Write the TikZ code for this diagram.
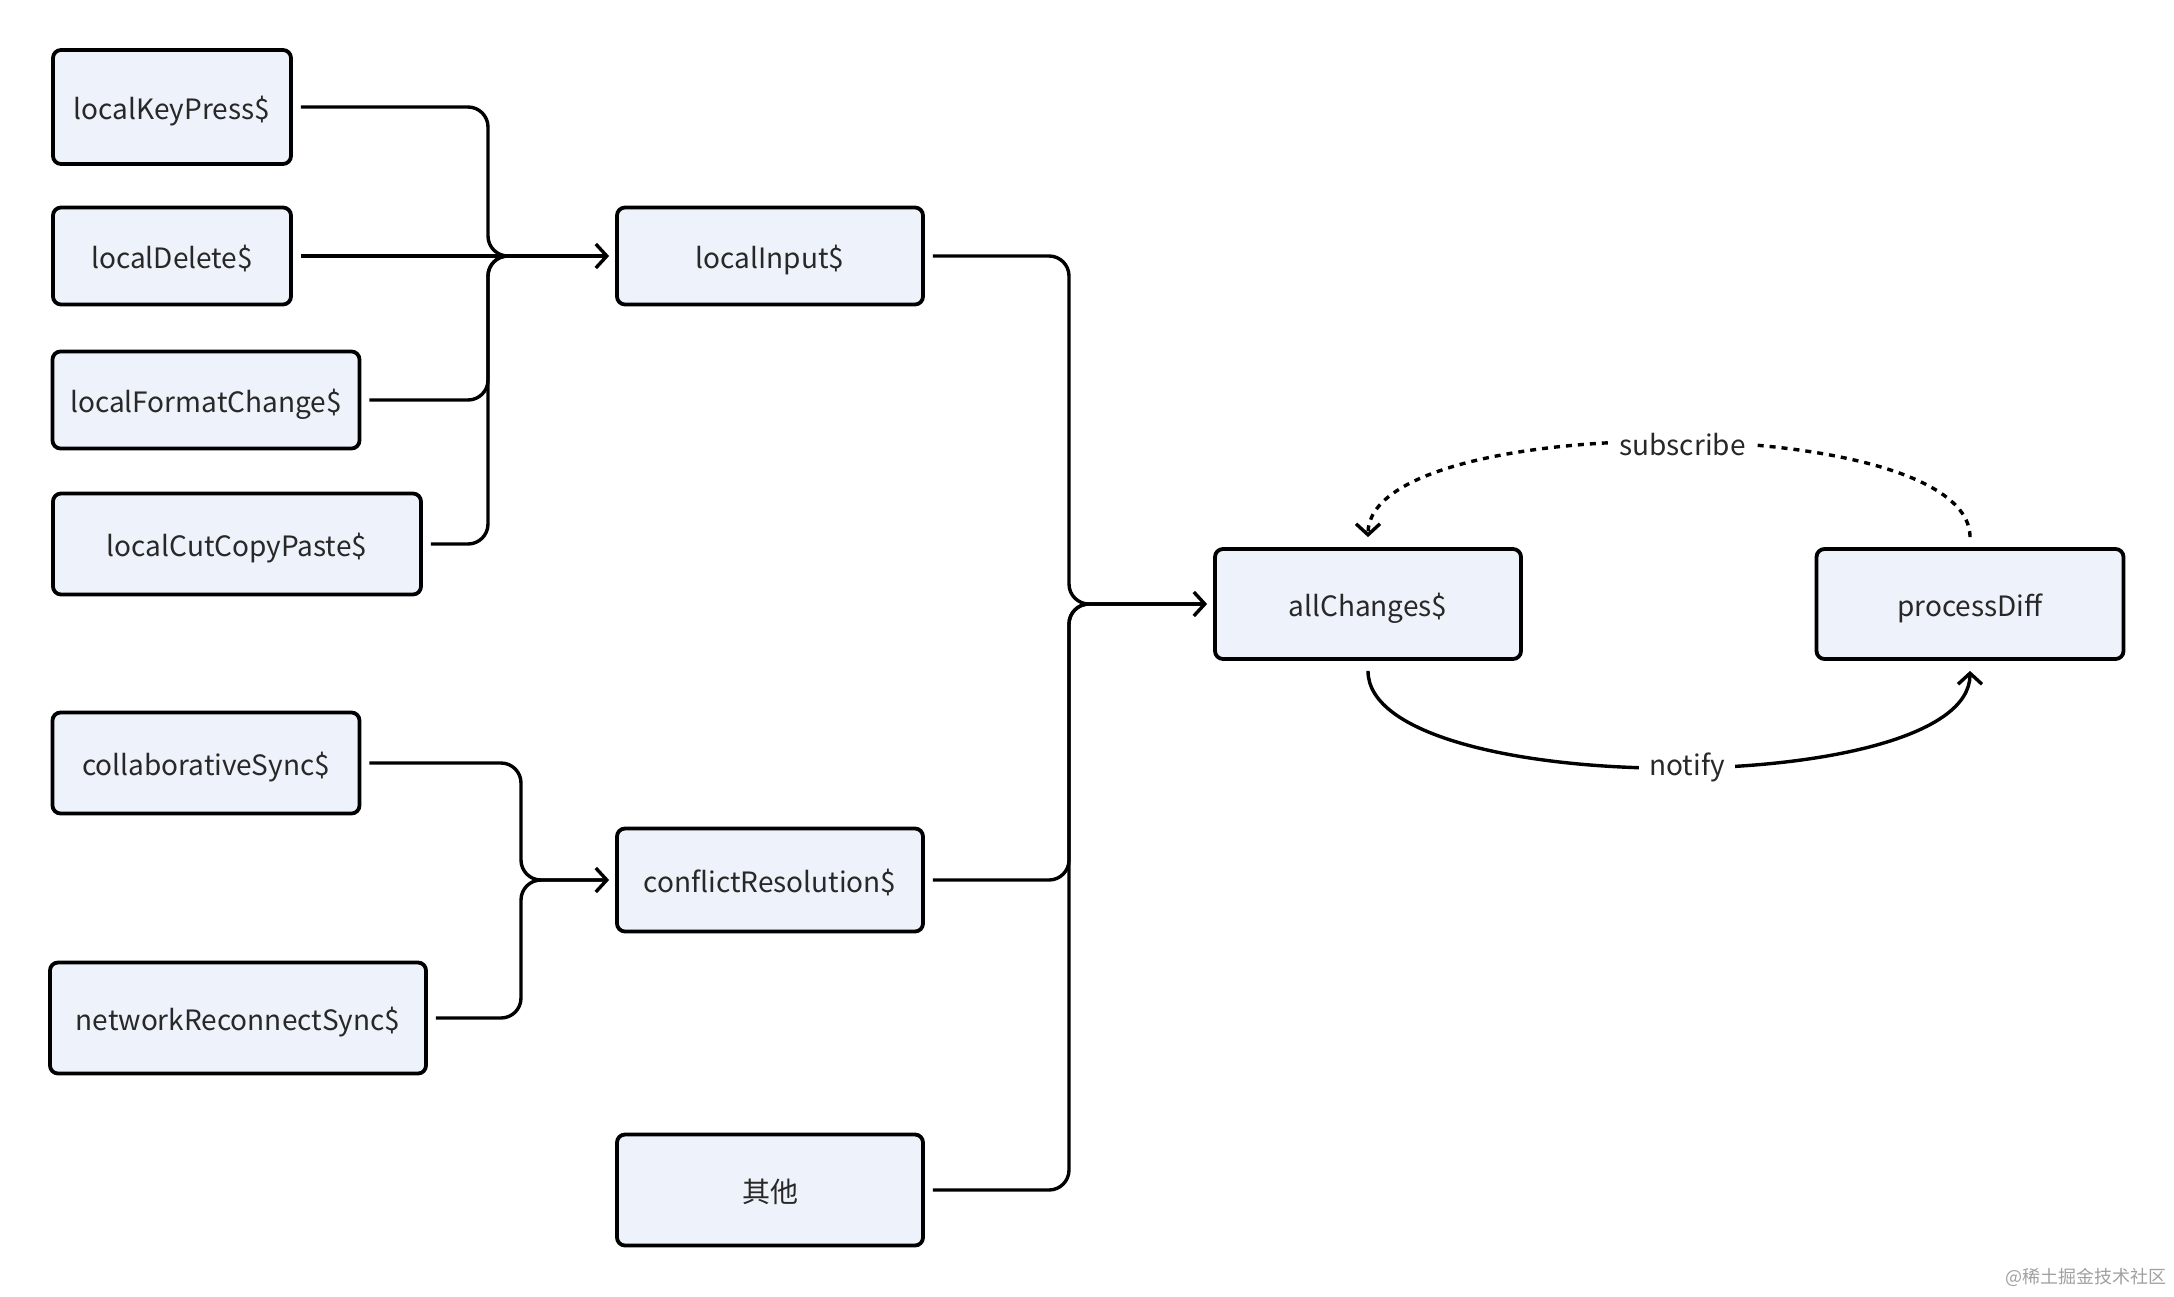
\documentclass[tikz,border=0pt]{standalone}
\usepackage{fontspec}
\setmainfont{Noto Sans CJK SC}
\usetikzlibrary{arrows.meta}
\definecolor{boxfill}{RGB}{238,242,250}
\definecolor{txt}{RGB}{40,40,40}
\definecolor{wm}{RGB}{160,160,160}
\begin{document}
\begin{tikzpicture}[x=0.5pt,y=-0.5pt,
  box/.style={draw=black, line width=1.9pt, rounded corners=4pt, fill=boxfill, text=txt,
    font=\fontsize{14}{16}\selectfont, inner sep=0pt, text height=15pt, text depth=3pt},
  conn/.style={line width=1.7pt, rounded corners=10pt, shorten <=4pt, shorten >=6pt},
  tip/.style={-{Straight Barb[length=5.5pt,width=12pt,line width=1.7pt]}, shorten >=3pt},
  lbl/.style={fill=white, text=txt, font=\fontsize{14}{16}\selectfont, inner sep=5pt}]
\useasboundingbox (0,0) rectangle (2174,1296);

% nodes
\node[box, minimum width=119pt, minimum height=57pt] (kp) at (172,107) {localKeyPress\$};
\node[box, minimum width=119pt, minimum height=48.5pt] (del) at (172,256) {localDelete\$};
\node[box, minimum width=153.5pt, minimum height=48.5pt] (fmt) at (206,400) {localFormatChange\$};
\node[box, minimum width=184pt, minimum height=50.5pt] (ccp) at (237,544) {localCutCopyPaste\$};
\node[box, minimum width=153pt, minimum height=48.5pt] (inp) at (770,256) {localInput\$};
\node[box, minimum width=153.5pt, minimum height=50.5pt] (cs) at (206,763) {collaborativeSync\$};
\node[box, minimum width=188pt, minimum height=55.5pt] (nr) at (238,1018) {networkReconnectSync\$};
\node[box, minimum width=153pt, minimum height=51.5pt] (cr) at (770,880) {conflictResolution\$};
\node[box, minimum width=153pt, minimum height=55.5pt] (oth) at (770,1190) {其他};
\node[box, minimum width=153pt, minimum height=55pt] (all) at (1368,604) {allChanges\$};
\node[box, minimum width=153.5pt, minimum height=55pt] (pd) at (1970,604) {processDiff};

% trunks
\coordinate (t1) at (488,0);
\coordinate (t2) at (521,0);
\coordinate (t3) at (1069,0);

% group 1
\draw[conn] (kp.east) -- (kp.east -| t1) -- (t1 |- inp.west) -- (inp.west);
\draw[conn] (fmt.east) -- (fmt.east -| t1) -- (t1 |- inp.west) -- (inp.west);
\draw[conn] (ccp.east) -- (ccp.east -| t1) -- (t1 |- inp.west) -- (inp.west);
\draw[conn, tip] (del.east) -- (inp.west);

% group 2
\draw[conn] (nr.east) -- (nr.east -| t2) -- (t2 |- cr.west) -- (cr.west);
\draw[conn, tip] (cs.east) -- (cs.east -| t2) -- (t2 |- cr.west) -- (cr.west);

% group 3
\draw[conn] (cr.east) -- (cr.east -| t3) -- (t3 |- all.west) -- (all.west);
\draw[conn] (oth.east) -- (oth.east -| t3) -- (t3 |- all.west) -- (all.west);
\draw[conn, tip] (inp.east) -- (inp.east -| t3) -- (t3 |- all.west) -- (all.west);

% notify
\draw[line width=1.7pt, shorten <=5pt, tip, shorten >=5pt]
  (all.south) .. controls (1368,800) and (1970,800) .. (pd.south)
  node[lbl, pos=0.52, yshift=-1pt] (nt) {notify};

% subscribe
\draw[line width=1.7pt, dash pattern=on 3pt off 3pt, shorten <=5pt, tip, shorten >=5pt]
  (pd.north) .. controls (1970,410) and (1368,410) .. (all.north)
  node[lbl, pos=0.485] (sb) {subscribe};

% watermark
\node[anchor=east, text=wm, font=\fontsize{9}{10}\selectfont, inner sep=0pt] (wmk) at (2167,1277) {@稀土掘金技术社区};
\end{tikzpicture}
\end{document}
